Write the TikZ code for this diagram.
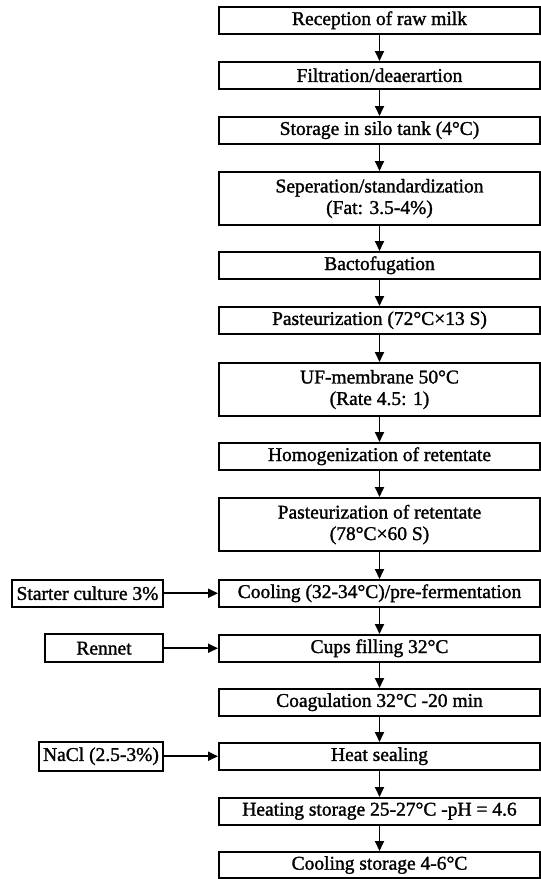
\documentclass[tikz,border=0pt]{standalone}
\usepackage{fontspec}
\setmainfont{Liberation Serif}
\newfontfamily\heavyfont[FakeBold=1.4]{Liberation Serif}
\usetikzlibrary{arrows.meta}
\tikzset{
  mainbox/.style={draw, line width=2pt, rectangle, minimum width=321pt, minimum height=26.5pt, inner sep=0pt, align=center, font=\heavyfont\fontsize{19.5}{21.5}\selectfont},
  tallbox/.style={mainbox, minimum height=53pt},
  sidebox/.style={draw, line width=2pt, rectangle, inner sep=0pt, align=center, font=\heavyfont\fontsize{19.5}{21.5}\selectfont},
  flow/.style={line width=1.8pt, -{Triangle[length=10pt,width=9pt]}}
}
\begin{document}
\begin{tikzpicture}[x=1pt,y=-1pt]
\useasboundingbox (0,0) rectangle (541,879);
\node[mainbox] (b1) at (379.5,20.25) {Reception of raw milk};
\node[mainbox] (b2) at (379.5,75.25) {Filtration/deaerartion};
\node[mainbox] (b3) at (379.5,130.25) {Storage in silo tank (4°C)};
\node[tallbox] (b4) at (379.5,198.5) {Seperation/standardization\\(Fat: 3.5-4\%)};
\node[mainbox] (b5) at (379.5,265.25) {Bactofugation};
\node[mainbox] (b6) at (379.5,320.25) {Pasteurization (72°C×13 S)};
\node[tallbox] (b7) at (379.5,389.5) {UF-membrane 50°C\\(Rate 4.5: 1)};
\node[mainbox] (b8) at (379.5,456.25) {Homogenization of retentate};
\node[tallbox] (b9) at (379.5,524.5) {Pasteurization of retentate\\(78°C×60 S)};
\node[mainbox] (b10) at (379.5,593.25) {Cooling (32-34°C)/pre-fermentation};
\node[mainbox] (b11) at (379.5,648.25) {Cups filling 32°C};
\node[mainbox] (b12) at (379.5,702.25) {Coagulation 32°C -20 min};
\node[mainbox] (b13) at (379.5,756.25) {Heat sealing};
\node[mainbox] (b14) at (379.5,811.25) {Heating storage 25-27°C -pH = 4.6};
\node[mainbox, minimum height=26pt] (b15) at (379.5,865) {Cooling storage 4-6°C};

\node[sidebox, minimum width=151pt, minimum height=27pt] (s1) at (87.5,593.25) {Starter culture 3\%};
\node[sidebox, minimum width=118pt, minimum height=28pt] (s2) at (104,648.25) {Rennet};
\node[sidebox, minimum width=124pt, minimum height=29pt] (s3) at (101,756.25) {NaCl (2.5-3\%)};

\foreach \a/\b in {b1/b2,b2/b3,b3/b4,b4/b5,b5/b6,b6/b7,b7/b8,b8/b9,b9/b10,b10/b11,b11/b12,b12/b13,b13/b14,b14/b15}
  \draw[flow] (\a) -- (\b);
\draw[flow] (s1) -- (b10);
\draw[flow] (s2) -- (b11);
\draw[flow] (s3) -- (b13);
\end{tikzpicture}
\end{document}
